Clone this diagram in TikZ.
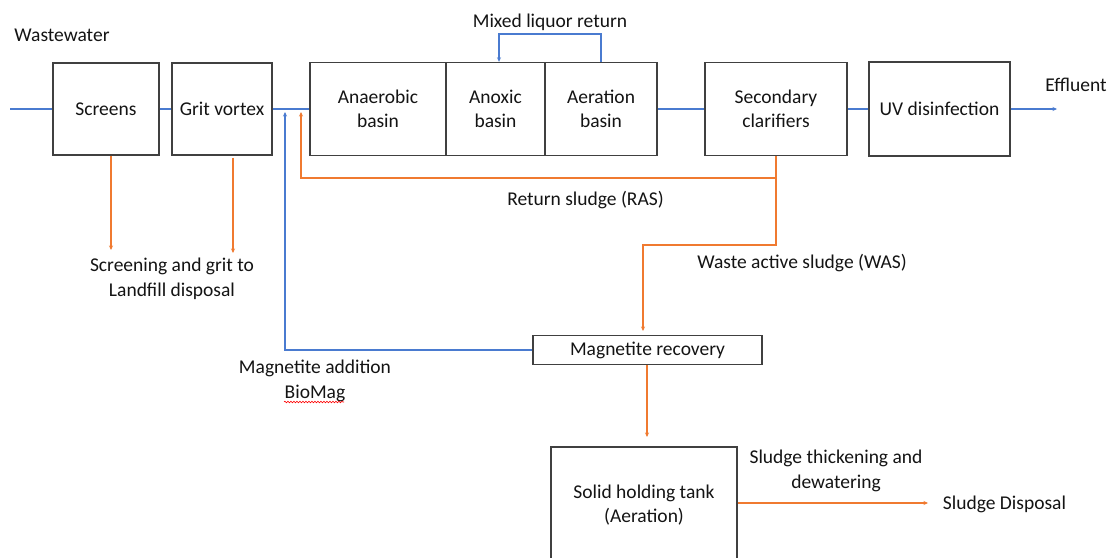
\documentclass[tikz,border=0pt]{standalone}
\usepackage{fontspec}
\setmainfont{Carlito}
\usetikzlibrary{arrows.meta,decorations.pathmorphing}
\definecolor{flowblue}{HTML}{4A7BD0}
\definecolor{sludge}{HTML}{F07A30}
\definecolor{boxline}{HTML}{404040}
\definecolor{txt}{HTML}{141414}
\tikzset{
  unit/.style={draw=boxline, line width=1.4pt, align=center, inner sep=0pt, text=txt},
  lbl/.style={align=center, inner sep=0pt, text=txt},
  bflow/.style={draw=flowblue, line width=1.15pt},
  oflow/.style={draw=sludge, line width=1.15pt},
  tip/.style={-{Stealth[length=4.5pt,width=4pt]}}
}
\begin{document}
\begin{tikzpicture}[x=1pt,y=-1pt,font=\fontsize{19.5}{24.5}\selectfont]
\useasboundingbox (0,0) rectangle (1111,557);
\fill[white] (0,0) rectangle (1111,557);
% boxes
\node[unit, minimum width=106, minimum height=92] (screens) at (106,109) {Screens};
\node[unit, minimum width=100, minimum height=92] (grit) at (222,109) {Grit vortex};
\node[unit, minimum width=136, minimum height=93] (anaer) at (378,109) {Anaerobic\\basin};
\node[unit, minimum width=99, minimum height=93] (anox) at (495.5,109) {Anoxic\\basin};
\node[unit, minimum width=112, minimum height=93] (aer) at (601,109) {Aeration\\basin};
\node[unit, minimum width=142, minimum height=93] (clar) at (776,109) {Secondary\\clarifiers};
\node[unit, minimum width=141, minimum height=94] (uv) at (939.5,109) {UV disinfection};
\node[unit, minimum width=229, minimum height=29] (mag) at (647.5,350) {Magnetite recovery};
\node[unit, minimum width=186, minimum height=116] (tank) at (644,505) {Solid holding tank\\(Aeration)};
% labels
\node[lbl] (ww) at (62,35) {Wastewater};
\node[lbl] (mlr) at (550,22) {Mixed liquor return};
\node[lbl] (eff) at (1076,85) {Effluent};
\node[lbl] (raslbl) at (585.5,200) {Return sludge (RAS)};
\node[lbl] (waslbl) at (802,263) {Waste active sludge (WAS)};
\node[lbl] (landfill) at (172,279) {Screening and grit to\\Landfill disposal};
\node[lbl] (magadd) at (315,381) {Magnetite addition\\BioMag};
\node[lbl] (thick) at (836,471) {Sludge thickening and\\dewatering};
\node[lbl] (disp) at (1004.5,504) {Sludge Disposal};
\draw[red, line width=0.6pt, decorate, decoration={snake, amplitude=0.8pt, segment length=3pt}] (284,402) -- (344,402);
% coordinates
\coordinate (inlet) at (10,109);
\coordinate (effend) at (1057,109);
\coordinate (mltop) at (601,34);
\coordinate (rasj) at (776,178);
\coordinate (rascorner) at (301,178);
\coordinate (rasend) at (301,112);
\coordinate (wasj) at (776,245);
\coordinate (wascorner) at (643,245);
\coordinate (wasend) at (643,331);
\coordinate (magcorner) at (285,350);
\coordinate (magend) at (285,112);
\coordinate (scrend) at (111,250);
\coordinate (gritend) at (233,253);
\coordinate (tankin) at (647,437);
\coordinate (dispend) at (928,503);
% main flow
\draw[bflow] (inlet) -- (screens.west);
\draw[bflow] (screens.east) -- (grit.west);
\draw[bflow] (grit.east) -- (anaer.west);
\draw[bflow] (aer.east) -- (clar.west);
\draw[bflow] (clar.east) -- (uv.west);
\draw[bflow,tip] (uv.east) -- (effend);
% mixed liquor return
\draw[bflow,tip] (aer.north) -- (mltop) -| ([xshift=3.5pt]anox.north);
% magnetite addition
\draw[bflow,tip] (mag.west) -- (magcorner) -- (magend);
% return sludge
\draw[oflow,tip] (clar.south) -- (rasj) -- (rascorner) -- (rasend);
% waste activated sludge
\draw[oflow,tip] (rasj) -- (wasj) -- (wascorner) -- (wasend);
% screenings
\draw[oflow,tip] ([xshift=5pt]screens.south) -- (scrend);
\draw[oflow,tip] ([shift={(11pt,-2pt)}]grit.south) -- (gritend);
% sludge line
\draw[oflow,tip] (mag.south -| tankin) -- (tankin);
\draw[oflow,tip] (tank.east |- dispend) -- (dispend);
\end{tikzpicture}
\end{document}
